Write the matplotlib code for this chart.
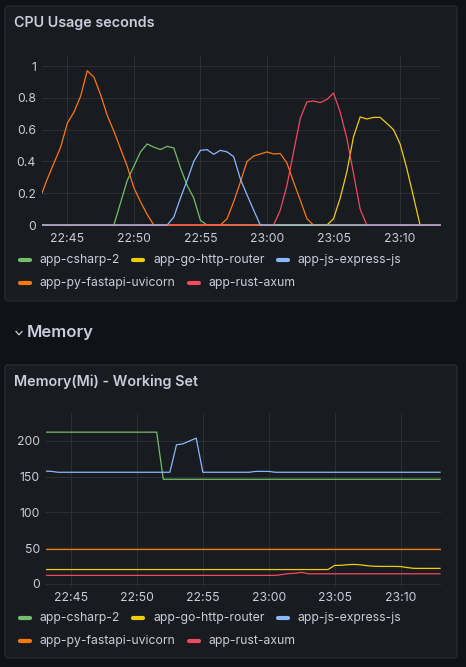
import matplotlib
matplotlib.use('Agg')
import pandas as pd
import matplotlib.pyplot as plt
import matplotlib.dates as mdates
from matplotlib.patches import FancyBboxPatch
from matplotlib.lines import Line2D

plt.rcParams['font.family'] = ['Inter', 'DejaVu Sans']

W, H = 466, 667
BG = '#111217'
PANEL = '#181b1f'
BORDER = '#2a2d33'
GRID = '#2b2f33'
TXT = '#ccccdc'

# samples every 30s from 22:43:00 to 23:13:00
times = pd.date_range('2024-01-01 22:43:00', periods=61, freq='30s')

names = ['app-csharp-2', 'app-go-http-router', 'app-js-express-js',
         'app-py-fastapi-uvicorn', 'app-rust-axum']
colors = ['#73BF69', '#F2CC0C', '#8AB8FF', '#FF780A', '#F2495C']

# ---- CPU usage seconds ----
cpu_csharp = [0, 0, 0, 0, 0, 0, 0, 0, 0, 0,
              0, 0, 0.14, 0.28, 0.37, 0.46, 0.51, 0.49, 0.475, 0.495,
              0.485, 0.36, 0.25, 0.17, 0.03, 0, 0, 0, 0, 0,
              0, 0, 0, 0, 0, 0, 0, 0, 0, 0,
              0, 0, 0, 0, 0, 0, 0, 0, 0, 0,
              0, 0, 0, 0, 0, 0, 0, 0, 0, 0,
              0]
cpu_go = [0, 0, 0, 0, 0, 0, 0, 0, 0, 0,
          0, 0, 0, 0, 0, 0, 0, 0, 0, 0,
          0, 0, 0, 0, 0, 0, 0, 0, 0, 0,
          0, 0, 0, 0, 0, 0, 0, 0, 0, 0,
          0, 0, 0, 0, 0.04, 0.17, 0.335, 0.555, 0.68, 0.667,
          0.677, 0.677, 0.64, 0.60, 0.51, 0.357, 0.18, 0, 0, 0,
          0]
cpu_js = [0, 0, 0, 0, 0, 0, 0, 0, 0, 0,
          0, 0, 0, 0, 0, 0, 0, 0, 0, 0,
          0.05, 0.17, 0.28, 0.40, 0.47, 0.474, 0.445, 0.47, 0.46, 0.43,
          0.29, 0.19, 0.094, 0, 0, 0, 0, 0, 0, 0,
          0, 0, 0, 0, 0, 0, 0, 0, 0, 0,
          0, 0, 0, 0, 0, 0, 0, 0, 0, 0,
          0]
cpu_py = [0.18, 0.29, 0.39, 0.49, 0.64, 0.71, 0.81, 0.97, 0.93, 0.82,
          0.69, 0.59, 0.48, 0.37, 0.235, 0.147, 0.067, 0, 0, 0,
          0, 0, 0, 0, 0, 0, 0, 0, 0.04, 0.147,
          0.27, 0.40, 0.434, 0.447, 0.46, 0.447, 0.45, 0.39, 0.27, 0.157,
          0.04, 0, 0, 0, 0, 0, 0, 0, 0, 0,
          0, 0, 0, 0, 0, 0, 0, 0, 0, 0,
          0]
cpu_rust = [0, 0, 0, 0, 0, 0, 0, 0, 0, 0,
            0, 0, 0, 0, 0, 0, 0, 0, 0, 0,
            0, 0, 0, 0, 0, 0, 0, 0, 0, 0,
            0, 0, 0, 0, 0, 0, 0.094, 0.25, 0.46, 0.67,
            0.775, 0.78, 0.77, 0.79, 0.83, 0.71, 0.545, 0.325, 0.10, 0,
            0, 0, 0, 0, 0, 0, 0, 0, 0, 0,
            0]

# ---- Memory (Mi) working set ----
mem_csharp = [212.2, 212.2, 212.2, 212.2, 212.2, 212.2, 212.2, 212.2, 212.2, 212.2,
              212.2, 212.2, 212.2, 212.2, 212.2, 212.2, 212.2, 212.2, 146.3, 146.3,
              146.3, 146.3, 146.3, 146.3, 146.3, 146.3, 146.3, 146.3, 146.3, 146.3,
              146.3, 146.3, 146.3, 146.3, 146.3, 146.3, 146.3, 146.3, 146.3, 146.3,
              146.3, 146.3, 146.3, 146.3, 146.3, 146.3, 146.3, 146.3, 146.3, 146.3,
              146.3, 146.3, 146.3, 146.3, 146.3, 146.3, 146.3, 146.3, 146.3, 146.3,
              146.3]
mem_go = [20.0, 20.0, 20.0, 20.0, 20.0, 20.0, 20.0, 20.0, 20.0, 20.0,
          20.0, 20.0, 20.0, 20.0, 20.0, 20.0, 20.0, 20.0, 20.0, 20.0,
          20.0, 20.0, 20.0, 20.0, 20.0, 20.0, 20.0, 20.0, 20.0, 20.0,
          20.0, 20.0, 20.0, 20.0, 20.0, 20.0, 20.0, 20.0, 20.0, 20.0,
          20.0, 20.0, 20.0, 20.0, 25.8, 25.9, 26.8, 27.2, 26.5, 25.3,
          24.6, 24.4, 24.4, 24.4, 24.2, 22.8, 21.7, 21.6, 21.6, 21.6,
          21.6]
mem_js = [157.8, 157.4, 156.1, 156.1, 156.1, 156.1, 156.1, 156.1, 156.1, 156.1,
          156.1, 156.1, 156.1, 156.1, 156.1, 156.1, 156.1, 156.1, 156.1, 156.1,
          194.5, 195.9, 200.0, 203.8, 156.1, 156.1, 156.1, 156.1, 156.1, 156.1,
          156.1, 156.1, 157.3, 157.3, 157.3, 156.1, 156.1, 156.1, 156.1, 156.1,
          156.1, 156.1, 156.1, 156.1, 156.1, 156.1, 156.1, 156.1, 156.1, 156.1,
          156.1, 156.1, 156.1, 156.1, 156.1, 156.1, 156.1, 156.1, 156.1, 156.1,
          156.1]
mem_py = [48.2, 48.2, 48.2, 48.2, 48.2, 48.2, 48.2, 48.2, 48.2, 48.2,
          48.2, 48.2, 48.2, 48.2, 48.2, 48.2, 48.2, 48.2, 48.2, 48.2,
          48.2, 48.2, 48.2, 48.2, 48.2, 48.2, 48.2, 48.2, 48.2, 48.2,
          48.2, 48.2, 48.2, 48.2, 48.2, 48.2, 48.2, 48.2, 48.2, 48.2,
          48.2, 48.2, 48.2, 48.2, 48.2, 48.2, 48.2, 48.2, 48.2, 48.2,
          48.2, 48.2, 48.2, 48.2, 48.2, 48.2, 48.2, 48.2, 48.2, 48.2,
          48.2]
mem_rust = [11.8, 11.8, 11.8, 11.8, 11.8, 11.8, 11.8, 11.8, 11.8, 11.8,
            11.8, 11.8, 11.8, 11.8, 11.8, 11.8, 11.8, 11.8, 11.8, 11.8,
            11.8, 11.8, 11.8, 11.8, 11.8, 11.8, 11.8, 11.8, 11.8, 11.8,
            11.8, 11.8, 11.8, 11.8, 11.8, 11.8, 13.0, 14.3, 14.8, 16.0,
            14.1, 14.1, 14.1, 14.1, 14.1, 14.1, 14.1, 14.1, 14.1, 14.1,
            14.1, 14.1, 14.1, 14.1, 14.1, 14.1, 14.1, 14.1, 14.1, 14.1,
            14.1]

cpu_ticks = [0, 0.2, 0.4, 0.6, 0.8, 1]
cpu_tick_labels = ['0', '0.2', '0.4', '0.6', '0.8', '1']
mem_ticks = [0, 50, 100, 150, 200]
mem_tick_labels = ['0', '50', '100', '150', '200']


def fx(x):
    return x / W


def fy(y):
    return 1 - y / H


fig = plt.figure(figsize=(W / 100, H / 100), dpi=100, facecolor=BG)


def panel(top, bottom, title):
    # panel box in inches, y measured from the top of the picture
    box = FancyBboxPatch((5 / 100, (H - bottom) / 100), 452 / 100, (bottom - top) / 100,
                         boxstyle='round,pad=0,rounding_size=0.03',
                         transform=fig.dpi_scale_trans, facecolor=PANEL,
                         edgecolor=BORDER, lw=0.8, zorder=-5)
    fig.patches.append(box)
    fig.text(fx(14), fy(top + 17), title, color=TXT, fontsize=10.3,
             fontweight='semibold', va='center', ha='left')


def make_axes(left, right, top, bottom, yticks, ylabels, ylim):
    ax = fig.add_axes([fx(left), fy(bottom), fx(right) - fx(left), (bottom - top) / H])
    ax.set_facecolor('none')
    for s in ax.spines.values():
        s.set_visible(False)
    ax.grid(True, color=GRID, lw=0.75)
    ax.set_axisbelow(True)
    ax.set_yticks(yticks)
    ax.set_yticklabels(ylabels)
    ax.set_ylim(*ylim)
    ax.set_xlim(pd.Timestamp('2024-01-01 22:43:06'), pd.Timestamp('2024-01-01 23:13:03'))
    ax.xaxis.set_major_locator(mdates.MinuteLocator(byminute=range(0, 60, 5)))
    ax.xaxis.set_major_formatter(mdates.DateFormatter('%H:%M'))
    ax.tick_params(length=0, colors=TXT, labelsize=8.8)
    ax.tick_params(axis='y', pad=4.3)
    ax.tick_params(axis='x', pad=4)
    return ax


def legend(row1_y, row2_y):
    renderer = fig.canvas.get_renderer()
    rows = [(row1_y, [0, 1, 2]), (row2_y, [3, 4])]
    for y, idx in rows:
        x = 18
        for i in idx:
            fig.add_artist(Line2D([fx(x + 2), fx(x + 12)], [fy(y), fy(y)], color=colors[i],
                                  lw=3, solid_capstyle='round'))
            t = fig.text(fx(x + 22), fy(y), names[i], color=TXT, fontsize=8.8,
                         va='center', ha='left')
            w = t.get_window_extent(renderer).width
            x = x + 22 + w + 11


# CPU panel
panel(6, 301, 'CPU Usage seconds')
ax1 = make_axes(42, 440.7, 56, 227, cpu_ticks, cpu_tick_labels, (-0.012, 1.063))
cpu = [cpu_csharp, cpu_go, cpu_js, cpu_py, cpu_rust]
for i in [0, 1, 3, 4, 2]:
    ax1.plot(times, cpu[i], color=colors[i], lw=0.9)
legend(260, 283)

# row header
fig.add_artist(Line2D([fx(16), fx(19), fx(22)], [fy(331.5), fy(334.8), fy(331.5)],
                      color=TXT, lw=0.9))
fig.text(fx(27), fy(332), 'Memory', color=TXT, fontsize=12, fontweight='semibold',
         va='center', ha='left')

# Memory panel
panel(365, 658, 'Memory(Mi) - Working Set')
ax2 = make_axes(46, 440.7, 413, 586.7, mem_ticks, mem_tick_labels, (-4, 239))
mem = [mem_csharp, mem_go, mem_js, mem_py, mem_rust]
for i in range(5):
    ax2.plot(times, mem[i], color=colors[i], lw=0.9)
legend(617.7, 641)

fig.savefig('out.png', dpi=100, facecolor=BG)
